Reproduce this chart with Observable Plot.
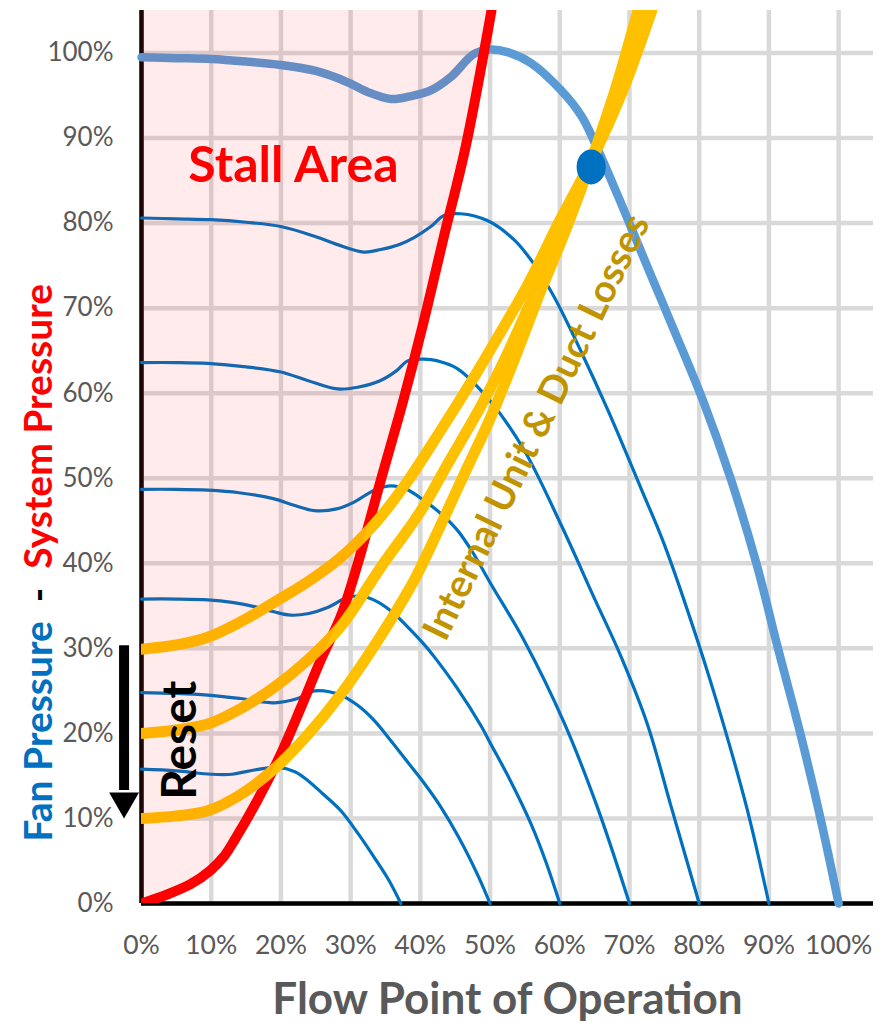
<!DOCTYPE html>
<html>
<head>
<meta charset="utf-8">
<script src="https://cdn.jsdelivr.net/npm/d3@7"></script>
<script src="https://cdn.jsdelivr.net/npm/@observablehq/plot@0.6"></script>
<style>
  html, body { margin: 0; padding: 0; background: #fff; }
  #chart { width: 886px; height: 1023px; overflow: hidden; }
  #chart svg { display: block; }
</style>
</head>
<body>
<div id="chart"></div>
<script>
// ---------- tick values ----------
const xTicks = [0, 10, 20, 30, 40, 50, 60, 70, 80, 90, 100];
const yTicks = [0, 10, 20, 30, 40, 50, 60, 70, 80, 90, 100];

// ---------- fan curves (flow %, pressure %) ----------
const fan100X = [0,5,10,15,20,25,28,30,32.5,35.8,38.5,41.5,44.4,47.7,50,52.5,55.9,60.2,63.1,65,68.5,72.6,76.4,80.7,84.5,88.2,91.3,94.5,97.4,100];
const fan100Y = [99.5,99.4,99.3,99.0,98.6,97.9,97.1,96.4,95.4,94.6,94.9,95.6,97.2,99.9,100.4,100.1,98.8,95.6,92.6,89.5,82.9,74.8,67.4,58.8,50,40,30,20,10,0];

const fan90X = [0,5,10,15,20,25,28,31.9,34.3,37,39.1,41.5,43.4,45.8,49.6,53.5,56.8,59.2,63,66.9,71.6,75,79.8,83.5,86.9,90];
const fan90Y = [80.6,80.5,80.4,80.1,79.6,78.4,77.5,76.6,76.9,77.5,78.3,79.6,80.9,81.1,80.3,78.0,74.6,71.3,65,58,48.9,42.2,30.8,21.0,11.0,0];

const fan80X = [0,5,9.5,15,20,23.8,28.1,31,34.3,36.5,38.2,40.5,42.5,45.3,50.1,54.9,60.2,64.9,68.8,72.6,75.9,80];
const fan80Y = [63.6,63.6,63.5,63.1,62.5,61.5,60.5,60.7,61.5,62.6,63.8,64.0,63.8,62.9,59.0,53.3,44.5,36.0,29.0,21.0,11.6,0];

const fan70X = [0,5,9.5,14,18.9,22,24.8,28,30.5,33.4,35.8,38,40.5,43,45.3,47.5,50.1,54.9,60.6,65.4,70];
const fan70Y = [48.7,48.7,48.6,48.3,47.6,46.8,46.2,46.4,47.2,48.6,49.1,48.7,47.4,45.8,43.9,41.3,37.6,30.9,21.3,11.3,0];

const fan60X = [0,5,9.5,13,16.2,19,21.4,24,26.7,29.6,31.9,34,36.2,38.2,40.5,42,45.3,48.7,50,52.5,55.9,58,60];
const fan60Y = [35.8,35.8,35.7,35.4,34.9,34.3,33.9,34.1,34.8,36.0,36.1,35.4,34.1,32.5,30.5,29.0,25.3,20.9,18.9,15.1,9.3,4.9,0];

const fan50X = [0,5,9.5,14.2,19,22.4,24.8,28.6,31,33.4,35.8,38.2,40.5,42.9,45.5,48.2,50];
const fan50Y = [24.8,24.7,24.5,24.1,23.6,24.1,25.0,24.5,23.3,21.5,19.1,16.6,14.2,11.4,7.8,3.4,0];

const fan40X = [0,5,10,13,16.2,19.5,22,23.8,26,28.6,31,33.4,35.5,37.2];
const fan40Y = [15.8,15.6,15.2,15.2,15.7,16.0,15.5,14.5,12.9,10.9,8.3,5.4,2.7,0];

// ---------- surge / stall line ----------
const stallX = [0,3.5,7.1,9.9,11.8,13.3,16.6,20,22.9,25.7,28.6,31,34.3,37.5,40.5,43.4,46.5,50.2];
const stallY = [0,1.0,2.3,3.9,5.5,7.4,12.1,17.6,23.1,28.6,33.8,39.9,49.7,59,68.5,78.5,89,105];

// ---------- system curves (internal unit & duct losses) ----------
const sys30X = [0,5,9.5,14.2,19,23.8,28.6,33.4,38.2,42.9,47.7,50.1,55.5,60,64.5,69,73.2];
const sys30Y = [29.9,30.4,31.3,33.1,35.4,37.8,40.7,44.6,49.7,55.6,61.9,65.2,72.9,80.3,87.3,95.5,105];

const sys20X = [0,5,9.5,14.2,19,23.8,28.6,34.3,40.1,44,48.7,52,56.5,60.5,64.5,68.5,72.2];
const sys20Y = [20,20.4,21.1,22.9,25.4,28.6,32.6,39.5,46.2,51.8,58.5,63.8,72,79.5,87.3,96,105];

const sys10X = [0,5,9.5,14.2,19,23.8,28.6,33.4,39.1,41.5,46.3,50,53.5,57,61,64.5,68,71.2];
const sys10Y = [10,10.3,10.9,12.8,15.8,19.8,24.6,30.3,38,42,50.5,57,64,71.5,79.5,87.3,95.8,105];

// ---------- operating point ----------
const opX = [64.5];
const opY = [86.6];

// ---------- build tables ----------
const toRows = (xs, ys, series) => xs.map((x, i) => ({ x, y: ys[i], series }));
const thinFans = [
  ...toRows(fan90X, fan90Y, "90%"),
  ...toRows(fan80X, fan80Y, "80%"),
  ...toRows(fan70X, fan70Y, "70%"),
  ...toRows(fan60X, fan60Y, "60%"),
  ...toRows(fan50X, fan50Y, "50%"),
  ...toRows(fan40X, fan40Y, "40%")
];
const mainFan = toRows(fan100X, fan100Y, "100%");
const stall = toRows(stallX, stallY, "stall");
const systems = [
  ...toRows(sys30X, sys30Y, "30"),
  ...toRows(sys20X, sys20Y, "20"),
  ...toRows(sys10X, sys10Y, "10")
];
const opPoint = toRows(opX, opY, "op");

const FONT = "Lato, 'Open Sans', sans-serif";

const chart = Plot.plot({
  width: 886,
  height: 1023,
  marginLeft: 141,
  marginRight: 13,
  marginTop: 10,
  marginBottom: 120,
  x: { domain: [0, 105] },
  y: { domain: [0, 105] },
  style: { fontFamily: FONT, background: "#fff", overflow: "visible" },
  marks: [
    Plot.gridX(xTicks, { stroke: "#d9d9d9", strokeOpacity: 1, strokeWidth: 4.5 }),
    Plot.gridY(yTicks, { stroke: "#d9d9d9", strokeOpacity: 1, strokeWidth: 4.5 }),
    Plot.axisX(xTicks, { tickSize: 0, tickPadding: 32, tickFormat: d => d + "%", fontSize: 26.5, color: "#595959", label: null }),
    Plot.axisY(yTicks, { tickSize: 0, tickPadding: 28, tickFormat: d => d + "%", fontSize: 26, color: "#595959", label: null }),
    Plot.ruleY([0], { stroke: "#000", strokeWidth: 4.5 }),
    Plot.ruleX([0], { stroke: "#120606", strokeWidth: 4.5 }),
    Plot.line(thinFans, { x: "x", y: "y", z: "series", stroke: "#0070c0", strokeWidth: 3.2, curve: "catmull-rom" }),
    Plot.line(mainFan, { x: "x", y: "y", stroke: "#5b9bd5", strokeWidth: 8.5, curve: "catmull-rom" }),
    Plot.line(stall, { x: "x", y: "y", stroke: "#ff0000", strokeWidth: 10, curve: "catmull-rom", clip: true }),
    Plot.line(systems, { x: "x", y: "y", z: "series", stroke: "#ffc000", strokeWidth: 11, curve: "catmull-rom", clip: true }),
    Plot.dot(opPoint, { x: "x", y: "y", r: 15.5, fill: "#0070c0", stroke: null }),
    Plot.areaX(stall, { x1: 0, x2: "x", y: "y", fill: "#ff0000", fillOpacity: 0.08, curve: "catmull-rom", clip: true }),
    // reset arrow
    Plot.ruleX([-2.5], { y1: 30.3, y2: 13.3, stroke: "#000", strokeWidth: 10 }),
    Plot.dot([-2.5], { x: d => d, y: 12.03, symbol: "triangle", rotate: 180, r: 11.1, fill: "#000", stroke: null }),
    // annotations
    Plot.text(["Stall Area"], { x: 21.8, y: 84.8, text: d => d, lineAnchor: "bottom", fontSize: 50, fontWeight: "bold", fill: "#ff0000" }),
    Plot.text(["Reset"], { x: 7.8, y: 19.2, text: d => d, rotate: -90, lineAnchor: "bottom", fontSize: 48, fontWeight: "bold", fill: "#000" }),
    Plot.text(["Internal Unit & Duct Losses"], { x: 56.7, y: 56.0, text: d => d, rotate: -64, lineAnchor: "middle", fontSize: 38.5, fontWeight: "bold", fill: "#c09400" }),
    Plot.text(["Flow Point of Operation"], { frameAnchor: "bottom", dy: 110, text: d => d, lineAnchor: "bottom", fontSize: 44, fontWeight: "bold", fill: "#595959" })
  ]
});

document.getElementById("chart").appendChild(chart);

// operating point drawn slightly elliptical like the reference
d3.select(chart).selectAll("circle").each(function () {
  const b = this.getBBox();
  const cx = b.x + b.width / 2, cy = b.y + b.height / 2;
  const t = this.getAttribute("transform") || "";
  this.setAttribute("transform", `${t} translate(${cx},${cy}) scale(0.94,1.13) translate(${-cx},${-cy})`);
});

// multi-coloured y-axis title
const yS = chart.scale("y");
const title = d3.select(chart).append("text")
  .attr("transform", `translate(52,${yS.apply(40)}) rotate(-90)`)
  .attr("text-anchor", "middle")
  .style("font-family", FONT)
  .style("font-size", "39px")
  .style("font-weight", "bold")
  .style("white-space", "pre");
title.append("tspan").attr("fill", "#0070c0").text("Fan Pressure");
title.append("tspan").attr("fill", "#000").text("  -  ");
title.append("tspan").attr("fill", "#ff0000").text("System Pressure");
</script>
</body>
</html>
